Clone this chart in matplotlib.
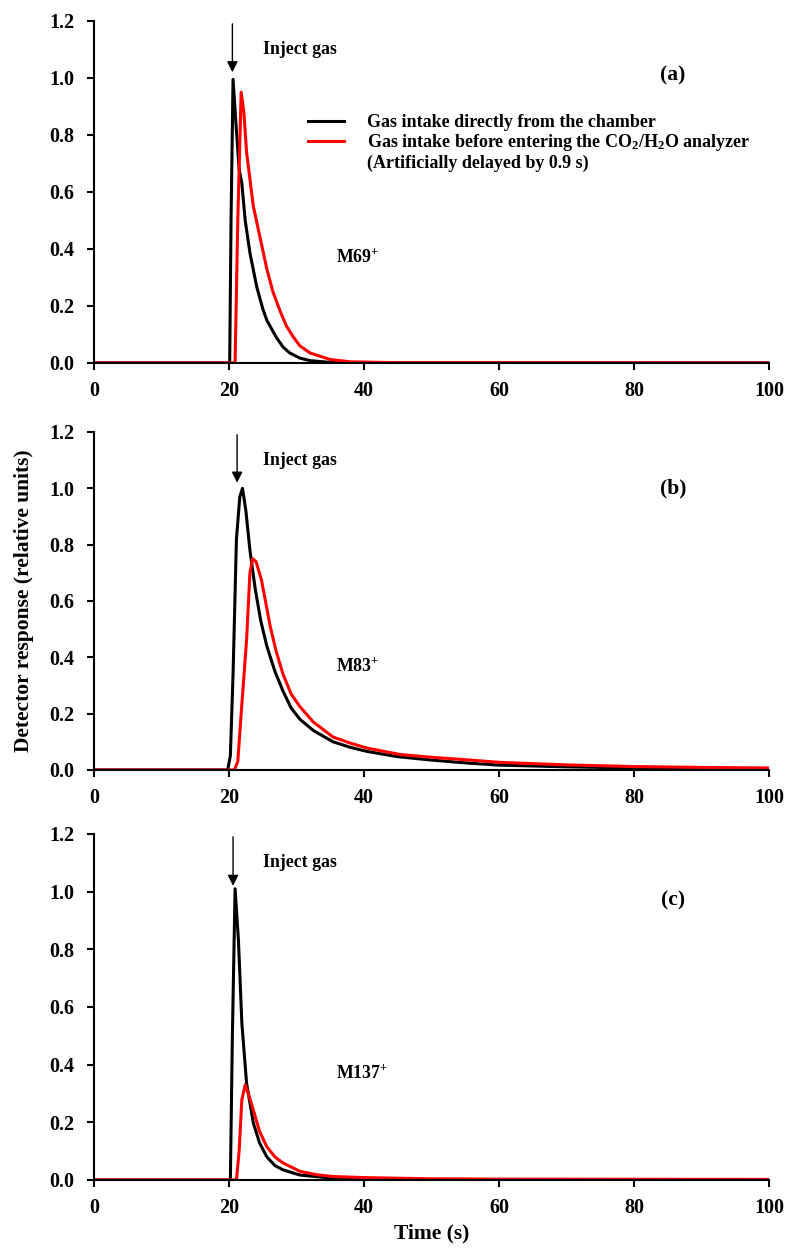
import matplotlib
matplotlib.use("Agg")
import matplotlib.pyplot as plt
from matplotlib.lines import Line2D

plt.rcParams["font.family"] = ["Liberation Serif", "DejaVu Serif"]
plt.rcParams["font.weight"] = "bold"
plt.rcParams["mathtext.default"] = "regular"

# ---- data (time in s, relative response) ----
# panel (a) M69+
t_a_direct = [0, 20.0, 20.1, 20.3, 20.6, 21.0, 21.5, 21.9, 22.4, 23.1, 24.1, 25.0, 25.6,
              27.0, 28.0, 29.0, 30.5, 32.0, 35.0, 40.0, 100]
y_a_direct = [0, 0, 0.0, 0.5, 0.995, 0.85, 0.68, 0.63, 0.50, 0.386, 0.268, 0.19, 0.15,
              0.09, 0.056, 0.035, 0.017, 0.008, 0.002, 0.0, 0.0]
t_a_delay = [0, 20.9, 21.3, 21.8, 22.2, 22.6, 23.6, 24.6, 25.6, 26.5, 27.6, 28.5, 29.5,
             30.5, 32.0, 35.0, 38.0, 45.0, 100]
y_a_delay = [0, 0, 0.5, 0.95, 0.88, 0.74, 0.55, 0.44, 0.33, 0.25, 0.18, 0.13, 0.092,
             0.06, 0.035, 0.012, 0.004, 0.001, 0.0]

# panel (b) M83+
t_b_direct = [0, 19.8, 20.2, 20.6, 21.1, 21.6, 22.0, 22.5, 23.1, 23.9, 24.7, 25.6, 26.8,
              28.0, 29.2, 30.5, 32.5, 35.4, 38.0, 40.4, 45.0, 50.0, 55.0, 60.0, 70.0,
              80.0, 90.0, 100]
y_b_direct = [0, 0, 0.05, 0.34, 0.82, 0.97, 1.0, 0.92, 0.78, 0.64, 0.53, 0.44, 0.35,
              0.28, 0.22, 0.18, 0.14, 0.10, 0.08, 0.066, 0.047, 0.035, 0.025, 0.017, 0.011,
              0.007, 0.005, 0.004]
t_b_delay = [0, 20.8, 21.3, 21.8, 22.2, 22.6, 23.1, 23.5, 24.0, 24.8, 25.4, 26.1, 27.0,
             28.0, 29.2, 30.5, 32.5, 35.4, 38.0, 40.4, 45.3, 50.0, 55.2, 60.1, 70.0,
             80.0, 90.0, 100]
y_b_delay = [0, 0, 0.03, 0.2, 0.33, 0.46, 0.70, 0.75, 0.74, 0.675, 0.60, 0.51, 0.42,
             0.34, 0.27, 0.225, 0.17, 0.117, 0.095, 0.078, 0.055, 0.045, 0.036, 0.027, 0.018,
             0.012, 0.009, 0.007]

# panel (c) M137+
t_c_direct = [0, 20.2, 20.5, 20.9, 21.4, 21.9, 22.6, 23.6, 24.5, 25.6, 26.8, 28.0, 30.5,
              35.4, 40.0, 50.0, 100]
y_c_direct = [0, 0, 0.5, 1.01, 0.83, 0.545, 0.336, 0.198, 0.13, 0.08, 0.05, 0.035, 0.017,
              0.006, 0.003, 0.001, 0.0]
t_c_delay = [0, 21.1, 21.5, 21.9, 22.4, 23.0, 23.6, 24.5, 25.6, 26.8, 28.0, 30.5, 33.0,
             35.4, 40.4, 50.0, 60.0, 100]
y_c_delay = [0, 0, 0.1, 0.278, 0.33, 0.29, 0.243, 0.17, 0.115, 0.08, 0.059, 0.03, 0.018,
             0.012, 0.008, 0.004, 0.003, 0.002]

panel_tags = ["(a)", "(b)", "(c)"]
tag_y = [1.01, 1.00, 0.97]
ion_labels = ["M69$^{+}$", "M83$^{+}$", "M137$^{+}$"]
inject_time = [20.5, 21.2, 20.6]
label_direct = "Gas intake directly from the chamber"
label_delay = "Gas intake before entering the CO$_2$/H$_2$O analyzer"
label_note = "(Artificially delayed by 0.9 s)"

series = [
    (t_a_direct, y_a_direct, t_a_delay, y_a_delay),
    (t_b_direct, y_b_direct, t_b_delay, y_b_delay),
    (t_c_direct, y_c_direct, t_c_delay, y_c_delay),
]

fig = plt.figure(figsize=(8, 12.55), dpi=100)
# axes boxes [left, bottom, width, height] in figure fraction
boxes = [
    [0.1175, 0.7108, 0.8438, 0.2725],
    [0.1175, 0.3865, 0.8438, 0.2693],
    [0.1175, 0.0598, 0.8438, 0.2757],
]

axes = []
for i, (td, yd, tr, yr) in enumerate(series):
    ax = fig.add_axes(boxes[i])
    axes.append(ax)
    ax.plot(td, yd, color="black", lw=2.2)
    ax.plot(tr, yr, color="#ff0000", lw=2.2)

    ax.set_xlim(0, 100)
    ax.set_ylim(0, 1.2)
    ax.set_xticks([0, 20, 40, 60, 80, 100])
    ax.set_yticks([0, 0.2, 0.4, 0.6, 0.8, 1.0, 1.2])
    ax.set_yticklabels(["0.0", "0.2", "0.4", "0.6", "0.8", "1.0", "1.2"])
    ax.spines["top"].set_visible(False)
    ax.spines["right"].set_visible(False)
    for s in ["left", "bottom"]:
        ax.spines[s].set_linewidth(1.5)
    ax.tick_params(axis="y", direction="out", length=5, width=1.5, pad=9, labelsize=14.5)
    ax.tick_params(axis="x", direction="out", length=5, width=1.5, pad=8, labelsize=14.5)

    # injection arrow
    ax.annotate("", xy=(inject_time[i], 1.02), xytext=(inject_time[i], 1.19),
                arrowprops=dict(arrowstyle="-|>", color="black", lw=1.0,
                                mutation_scale=16, shrinkA=0, shrinkB=0))
    ax.text(25.0, 1.10, "Inject gas", fontsize=12.8, fontweight="bold",
            ha="left", va="center")
    ax.text(35.8, 0.37, ion_labels[i], fontsize=12.8, fontweight="bold",
            ha="left", va="center")
    ax.text(85.8, tag_y[i], panel_tags[i], fontsize=15.5, fontweight="bold",
            ha="center", va="center")

handles = [Line2D([], [], color="black", lw=2.2),
           Line2D([], [], color="#ff0000", lw=2.2),
           Line2D([], [], color="none")]
axes[0].legend(handles, [label_direct, label_delay, label_note],
               loc="upper left", bbox_to_anchor=(0.317, 0.728), frameon=False,
               fontsize=13, handlelength=2.0, handletextpad=1.25,
               labelspacing=0.08, borderpad=0, borderaxespad=0)

axes[1].set_ylabel("Detector response (relative units)", fontsize=15.5, fontweight="bold",
                   labelpad=11)
axes[2].set_xlabel("Time (s)", fontsize=15.5, fontweight="bold", labelpad=4)

fig.savefig("out.png", dpi=100)
